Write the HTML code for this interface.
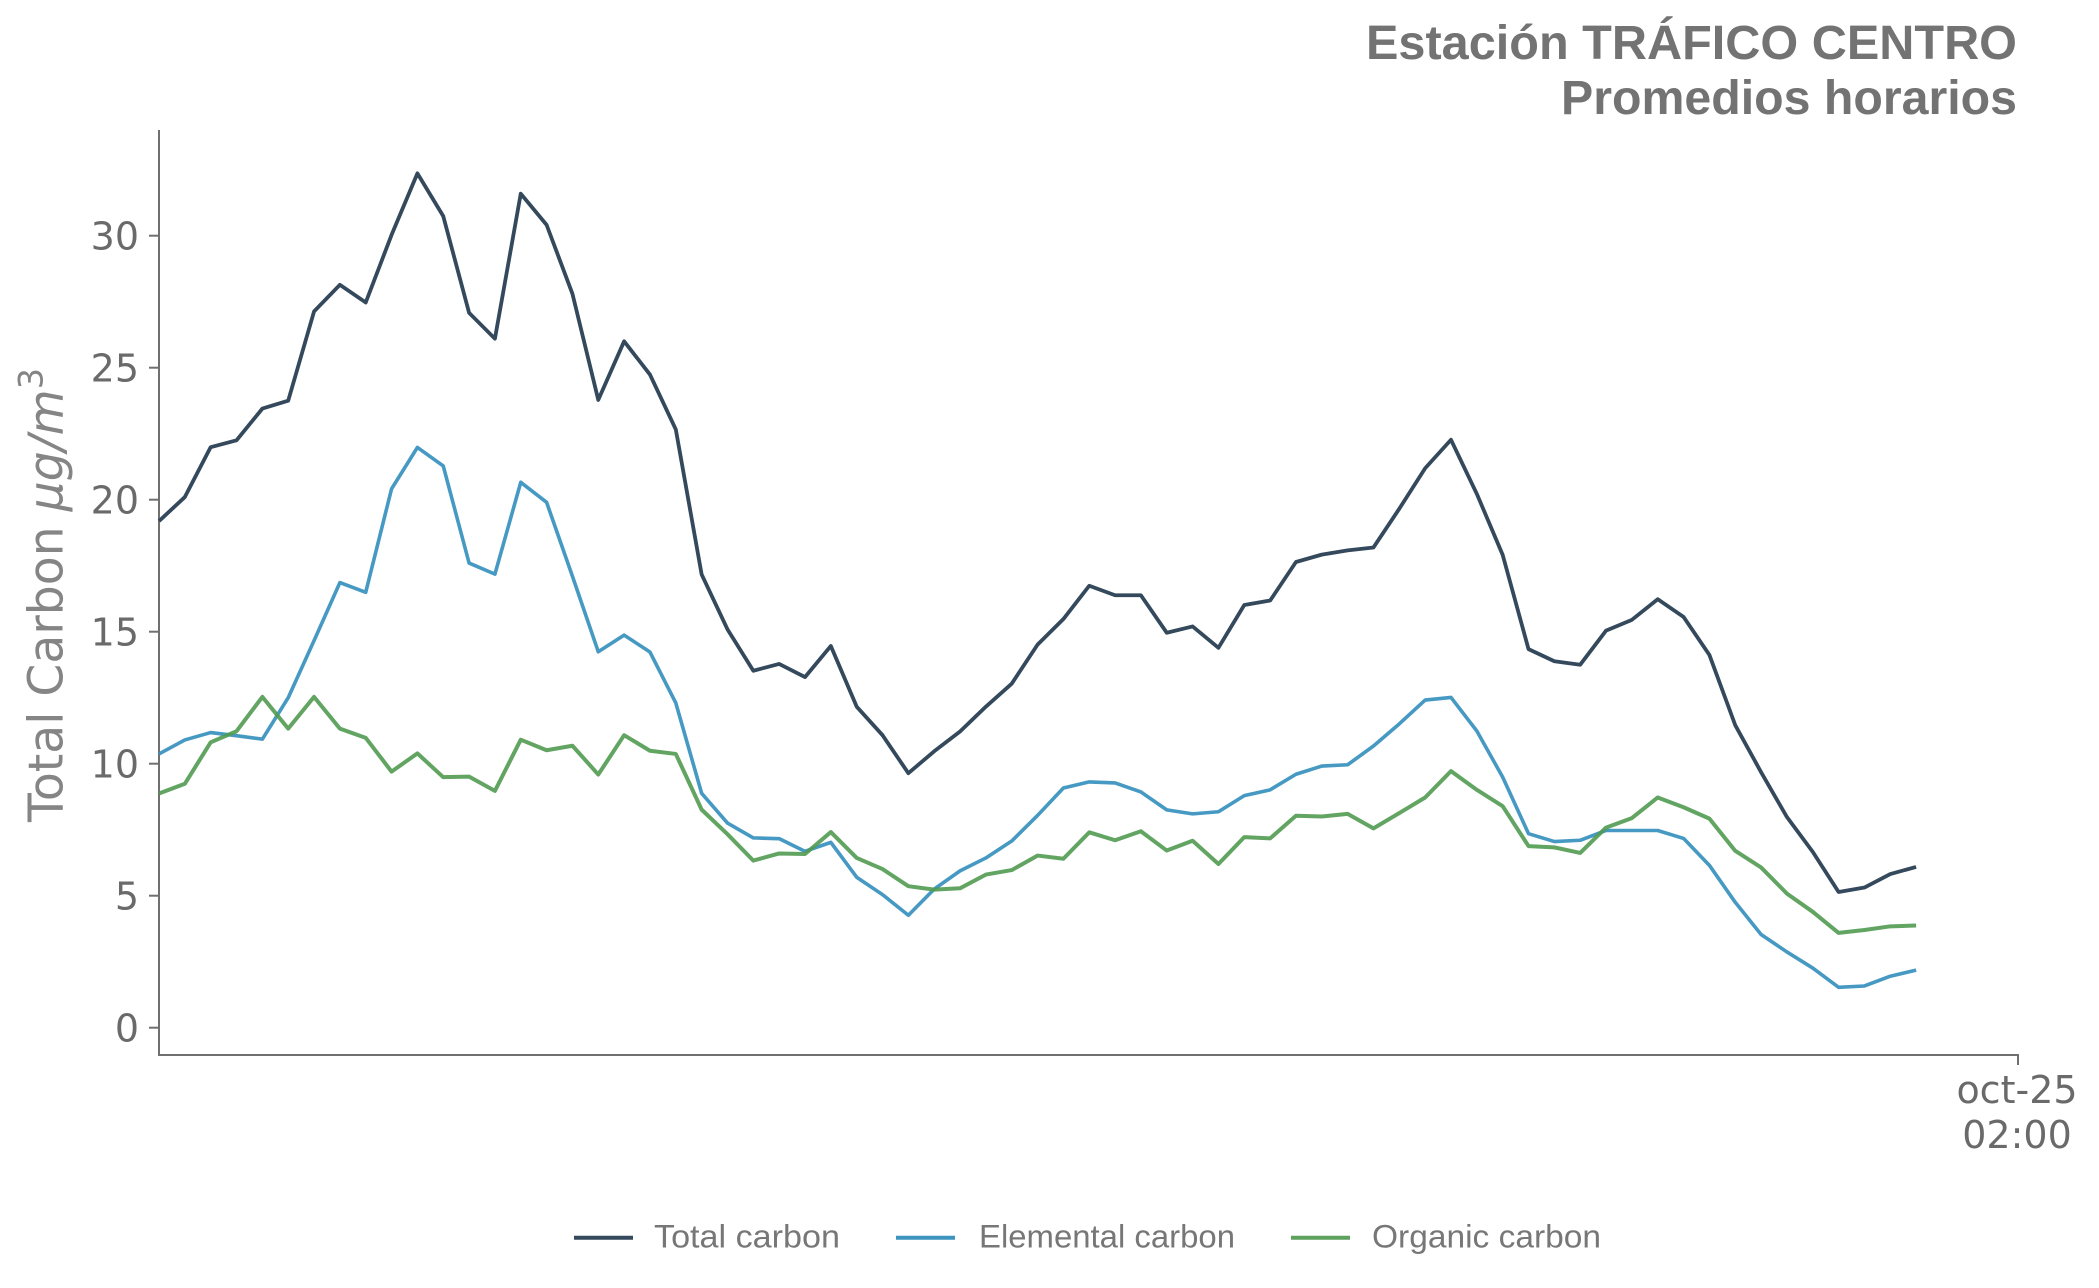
<!DOCTYPE html>
<html>
<head>
<meta charset="utf-8">
<style>
  html, body { margin: 0; padding: 0; background: #ffffff; }
  body { width: 2099px; height: 1288px; overflow: hidden; }
  svg { display: block; }
</style>
</head>
<body>
<svg width="2099" height="1288" viewBox="0 0 2099 1288" xmlns="http://www.w3.org/2000/svg">
  <rect x="0" y="0" width="2099" height="1288" fill="#ffffff"/>

  <!-- Title -->
  <text x="2017" y="59" text-anchor="end" font-family="Liberation Sans, DejaVu Sans, sans-serif" font-weight="bold" font-size="48" fill="#737373" textLength="651" lengthAdjust="spacingAndGlyphs">Estación TRÁFICO CENTRO</text>
  <text x="2017" y="114" text-anchor="end" font-family="Liberation Sans, DejaVu Sans, sans-serif" font-weight="bold" font-size="48" fill="#737373" textLength="456" lengthAdjust="spacingAndGlyphs">Promedios horarios</text>

  <!-- Axes spines -->
  <line x1="159" y1="130" x2="159" y2="1056" stroke="#707070" stroke-width="2"/>
  <line x1="158" y1="1055" x2="2019" y2="1055" stroke="#707070" stroke-width="2"/>

  <!-- Y ticks -->
  <g stroke="#707070" stroke-width="2">
    <line x1="149" y1="1027.7" x2="159" y2="1027.7"/>
    <line x1="149" y1="895.7" x2="159" y2="895.7"/>
    <line x1="149" y1="763.7" x2="159" y2="763.7"/>
    <line x1="149" y1="631.7" x2="159" y2="631.7"/>
    <line x1="149" y1="499.7" x2="159" y2="499.7"/>
    <line x1="149" y1="367.7" x2="159" y2="367.7"/>
    <line x1="149" y1="235.7" x2="159" y2="235.7"/>
    <line x1="2018" y1="1055" x2="2018" y2="1065"/>
  </g>
  <g font-family="DejaVu Sans, Liberation Sans, sans-serif" font-size="38" fill="#6a6a6a" text-anchor="end">
    <text x="139" y="1041.5">0</text>
    <text x="139" y="909.5">5</text>
    <text x="139" y="777.5">10</text>
    <text x="139" y="645.5">15</text>
    <text x="139" y="513.5">20</text>
    <text x="139" y="381.5">25</text>
    <text x="139" y="249.5">30</text>
  </g>

  <!-- X tick label -->
  <g font-family="DejaVu Sans, Liberation Sans, sans-serif" font-size="38" fill="#6a6a6a" text-anchor="middle">
    <text x="2017" y="1103">oct-25</text>
    <text x="2017" y="1148">02:00</text>
  </g>

  <!-- Y label -->
  <text transform="translate(62.5,595) rotate(-90)" text-anchor="middle" font-family="DejaVu Sans, Liberation Sans, sans-serif" font-size="48" fill="#858585" textLength="454" lengthAdjust="spacingAndGlyphs">Total Carbon <tspan font-style="italic">μg/m</tspan><tspan font-size="34" dy="-20">3</tspan></text>

  <!-- Series -->
  <g transform="matrix(25.84 0 0 -26.4 159 1027.7)" fill="none" stroke-linejoin="round" stroke-linecap="butt">
    <polyline vector-effect="non-scaling-stroke" stroke="#34495c" stroke-width="3.8"
      points="0,19.19 1,20.10 2,21.99 3,22.25 4,23.45 5,23.75 6,27.13 7,28.14 8,27.47 9,30.03 10,32.36 11,30.74 12,27.08 13,26.10 14,31.59 15,30.41 16,27.80 17,23.78 18,26.0 19,24.74 20,22.66 21,17.17 22,15.09 23,13.52 24,13.78 25,13.28 26,14.46 27,12.16 28,11.08 29,9.64 30,10.47 31,11.22 32,12.16 33,13.03 34,14.51 35,15.48 36,16.74 37,16.38 38,16.38 39,14.96 40,15.20 41,14.39 42,16.01 43,16.18 44,17.64 45,17.92 46,18.08 47,18.19 48,19.66 49,21.19 50,22.27 51,20.22 52,17.91 53,14.34 54,13.88 55,13.75 56,15.04 57,15.45 58,16.23 59,15.56 60,14.12 61,11.46 62,9.68 63,7.98 64,6.66 65,5.14 66,5.31 67,5.82 68,6.09"/>
    <polyline vector-effect="non-scaling-stroke" stroke="#3c94bf" stroke-width="3.6" stroke-opacity="0.95"
      points="0,10.37 1,10.9 2,11.18 3,11.06 4,10.93 5,12.5 6,14.66 7,16.86 8,16.49 9,20.41 10,21.98 11,21.28 12,17.60 13,17.18 14,20.66 15,19.90 16,17.1 17,14.24 18,14.87 19,14.23 20,12.30 21,8.88 22,7.75 23,7.19 24,7.16 25,6.68 26,7.02 27,5.70 28,5.04 29,4.26 30,5.25 31,5.94 32,6.43 33,7.07 34,8.04 35,9.08 36,9.31 37,9.27 38,8.93 39,8.25 40,8.10 41,8.18 42,8.79 43,9.01 44,9.60 45,9.91 46,9.96 47,10.67 48,11.51 49,12.41 50,12.51 51,11.24 52,9.49 53,7.35 54,7.05 55,7.10 56,7.47 57,7.47 58,7.47 59,7.17 60,6.15 61,4.75 62,3.53 63,2.87 64,2.26 65,1.53 66,1.58 67,1.95 68,2.18"/>
    <polyline vector-effect="non-scaling-stroke" stroke="#519a50" stroke-width="4" stroke-opacity="0.9"
      points="0,8.87 1,9.24 2,10.81 3,11.23 4,12.53 5,11.33 6,12.53 7,11.33 8,10.98 9,9.70 10,10.39 11,9.49 12,9.51 13,8.97 14,10.91 15,10.51 16,10.68 17,9.59 18,11.08 19,10.49 20,10.37 21,8.26 22,7.33 23,6.33 24,6.60 25,6.58 26,7.41 27,6.43 28,6.01 29,5.36 30,5.23 31,5.28 32,5.80 33,5.97 34,6.52 35,6.40 36,7.40 37,7.10 38,7.44 39,6.71 40,7.08 41,6.20 42,7.22 43,7.17 44,8.03 45,8.00 46,8.10 47,7.55 48,8.13 49,8.72 50,9.72 51,9.01 52,8.39 53,6.88 54,6.83 55,6.62 56,7.58 57,7.94 58,8.72 59,8.35 60,7.92 61,6.70 62,6.07 63,5.08 64,4.39 65,3.59 66,3.70 67,3.84 68,3.87"/>
  </g>

  <!-- Legend -->
  <line x1="574" y1="1237.7" x2="633" y2="1237.7" stroke="#34495c" stroke-width="4"/>
  <line x1="896" y1="1237.7" x2="955" y2="1237.7" stroke="#3c94bf" stroke-width="4"/>
  <line x1="1291" y1="1237.7" x2="1350" y2="1237.7" stroke="#5fa15e" stroke-width="4"/>
  <g font-family="Liberation Sans, DejaVu Sans, sans-serif" font-size="32" fill="#777777">
    <text x="654" y="1247.7" textLength="186" lengthAdjust="spacingAndGlyphs">Total carbon</text>
    <text x="979" y="1247.7" textLength="256" lengthAdjust="spacingAndGlyphs">Elemental carbon</text>
    <text x="1372" y="1247.7" textLength="229" lengthAdjust="spacingAndGlyphs">Organic carbon</text>
  </g>
</svg>
</body>
</html>
